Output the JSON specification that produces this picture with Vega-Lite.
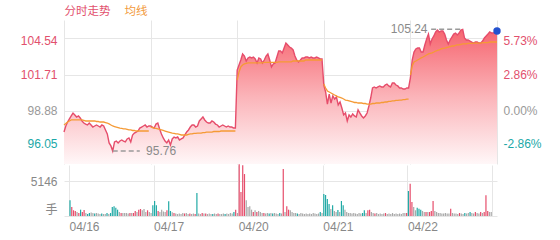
{
"$schema":"https://vega.github.io/schema/vega-lite/v6.json",
"background":"white",
"padding":{"left":20,"top":6,"right":5,"bottom":5},
"spacing":0,
"config":{"font":"Liberation Sans, Noto Sans CJK SC","view":{"stroke":null},"axis":{"labelFont":"Liberation Sans, Noto Sans CJK SC","labelFontSize":12},"legend":{"labelFont":"Noto Sans CJK SC, Liberation Sans"}},
"datasets":{
"m":[
{"t":0,"d":0,"p":97.24,"a":97.79,"v":2310,"c":"down"},
{"t":1,"d":0,"p":97.71,"a":97.90,"v":1320,"c":"up"},
{"t":2,"d":0,"p":98.02,"a":98.02,"v":840,"c":"up"},
{"t":3,"d":0,"p":98.26,"a":98.10,"v":740,"c":"up"},
{"t":4,"d":0,"p":98.49,"a":98.18,"v":590,"c":"flat"},
{"t":5,"d":0,"p":98.72,"a":98.18,"v":440,"c":"up"},
{"t":6,"d":0,"p":98.57,"a":98.18,"v":930,"c":"down"},
{"t":7,"d":0,"p":98.41,"a":98.18,"v":590,"c":"up"},
{"t":8,"d":0,"p":98.49,"a":98.18,"v":880,"c":"up"},
{"t":9,"d":0,"p":98.33,"a":98.18,"v":440,"c":"flat"},
{"t":10,"d":0,"p":98.10,"a":98.18,"v":290,"c":"down"},
{"t":11,"d":0,"p":97.94,"a":98.14,"v":440,"c":"down"},
{"t":12,"d":0,"p":97.86,"a":98.10,"v":510,"c":"flat"},
{"t":13,"d":0,"p":97.79,"a":98.10,"v":440,"c":"flat"},
{"t":14,"d":0,"p":97.94,"a":98.10,"v":370,"c":"down"},
{"t":15,"d":0,"p":97.79,"a":98.10,"v":440,"c":"flat"},
{"t":16,"d":0,"p":97.63,"a":98.10,"v":370,"c":"flat"},
{"t":17,"d":0,"p":97.71,"a":98.10,"v":290,"c":"flat"},
{"t":18,"d":0,"p":97.79,"a":98.06,"v":370,"c":"down"},
{"t":19,"d":0,"p":97.71,"a":98.06,"v":290,"c":"flat"},
{"t":20,"d":0,"p":97.63,"a":98.02,"v":290,"c":"flat"},
{"t":21,"d":0,"p":97.79,"a":98.02,"v":440,"c":"down"},
{"t":22,"d":0,"p":97.71,"a":98.02,"v":290,"c":"flat"},
{"t":23,"d":0,"p":97.40,"a":97.98,"v":440,"c":"down"},
{"t":24,"d":0,"p":97.09,"a":97.94,"v":1320,"c":"down"},
{"t":25,"d":0,"p":96.39,"a":97.87,"v":1430,"c":"down"},
{"t":26,"d":0,"p":96.16,"a":97.79,"v":1220,"c":"down"},
{"t":27,"d":0,"p":95.76,"a":97.71,"v":930,"c":"down"},
{"t":28,"d":0,"p":96.47,"a":97.67,"v":590,"c":"flat"},
{"t":29,"d":0,"p":96.54,"a":97.63,"v":440,"c":"up"},
{"t":30,"d":0,"p":96.39,"a":97.59,"v":440,"c":"flat"},
{"t":31,"d":0,"p":96.54,"a":97.55,"v":440,"c":"flat"},
{"t":32,"d":0,"p":96.62,"a":97.52,"v":440,"c":"flat"},
{"t":33,"d":0,"p":96.54,"a":97.48,"v":370,"c":"flat"},
{"t":34,"d":0,"p":96.47,"a":97.48,"v":440,"c":"up"},
{"t":35,"d":0,"p":96.70,"a":97.44,"v":440,"c":"flat"},
{"t":36,"d":0,"p":96.78,"a":97.40,"v":440,"c":"up"},
{"t":37,"d":0,"p":96.47,"a":97.40,"v":740,"c":"up"},
{"t":38,"d":0,"p":97.01,"a":97.36,"v":590,"c":"flat"},
{"t":39,"d":0,"p":97.16,"a":97.36,"v":930,"c":"up"},
{"t":40,"d":0,"p":97.24,"a":97.32,"v":1030,"c":"up"},
{"t":41,"d":0,"p":97.32,"a":97.32,"v":840,"c":"flat"},
{"t":42,"d":0,"p":97.55,"a":97.32,"v":1030,"c":"flat"},
{"t":43,"d":0,"p":97.63,"a":97.32,"v":590,"c":"flat"},
{"t":44,"d":0,"p":97.71,"a":97.32,"v":840,"c":"up"},
{"t":45,"d":0,"p":97.79,"a":97.32,"v":590,"c":"flat"},
{"t":46,"d":0,"p":97.63,"a":97.32,"v":440,"c":"flat"},
{"t":47,"d":0,"p":97.71,"a":97.32,"v":1570,"c":"down"},
{"t":48,"d":1,"p":97.71,"a":97.63,"v":2210,"c":"down"},
{"t":49,"d":1,"p":97.63,"a":97.59,"v":1570,"c":"down"},
{"t":50,"d":1,"p":97.55,"a":97.55,"v":740,"c":"up"},
{"t":51,"d":1,"p":97.86,"a":97.52,"v":590,"c":"flat"},
{"t":52,"d":1,"p":97.94,"a":97.48,"v":930,"c":"flat"},
{"t":53,"d":1,"p":97.48,"a":97.44,"v":660,"c":"flat"},
{"t":54,"d":1,"p":97.09,"a":97.40,"v":590,"c":"flat"},
{"t":55,"d":1,"p":96.78,"a":97.36,"v":840,"c":"up"},
{"t":56,"d":1,"p":96.54,"a":97.32,"v":2160,"c":"down"},
{"t":57,"d":1,"p":96.39,"a":97.28,"v":740,"c":"down"},
{"t":58,"d":1,"p":96.62,"a":97.24,"v":540,"c":"flat"},
{"t":59,"d":1,"p":96.23,"a":97.20,"v":440,"c":"up"},
{"t":60,"d":1,"p":96.70,"a":97.16,"v":370,"c":"flat"},
{"t":61,"d":1,"p":96.85,"a":97.13,"v":290,"c":"flat"},
{"t":62,"d":1,"p":96.78,"a":97.09,"v":370,"c":"flat"},
{"t":63,"d":1,"p":96.85,"a":97.09,"v":290,"c":"flat"},
{"t":64,"d":1,"p":96.62,"a":97.05,"v":440,"c":"flat"},
{"t":65,"d":1,"p":96.70,"a":97.01,"v":370,"c":"up"},
{"t":66,"d":1,"p":96.78,"a":97.01,"v":440,"c":"flat"},
{"t":67,"d":1,"p":97.01,"a":97.01,"v":290,"c":"flat"},
{"t":68,"d":1,"p":97.24,"a":97.01,"v":370,"c":"up"},
{"t":69,"d":1,"p":97.40,"a":97.05,"v":290,"c":"flat"},
{"t":70,"d":1,"p":97.63,"a":97.09,"v":370,"c":"flat"},
{"t":71,"d":1,"p":97.79,"a":97.09,"v":290,"c":"up"},
{"t":72,"d":1,"p":97.79,"a":97.13,"v":3380,"c":"down"},
{"t":73,"d":1,"p":97.63,"a":97.13,"v":370,"c":"flat"},
{"t":74,"d":1,"p":97.71,"a":97.16,"v":290,"c":"flat"},
{"t":75,"d":1,"p":98.10,"a":97.16,"v":440,"c":"up"},
{"t":76,"d":1,"p":98.26,"a":97.16,"v":370,"c":"flat"},
{"t":77,"d":1,"p":98.41,"a":97.20,"v":370,"c":"up"},
{"t":78,"d":1,"p":98.18,"a":97.20,"v":290,"c":"flat"},
{"t":79,"d":1,"p":98.02,"a":97.24,"v":370,"c":"flat"},
{"t":80,"d":1,"p":97.94,"a":97.24,"v":290,"c":"flat"},
{"t":81,"d":1,"p":97.94,"a":97.24,"v":290,"c":"down"},
{"t":82,"d":1,"p":98.10,"a":97.24,"v":370,"c":"flat"},
{"t":83,"d":1,"p":98.02,"a":97.28,"v":290,"c":"flat"},
{"t":84,"d":1,"p":97.86,"a":97.28,"v":370,"c":"up"},
{"t":85,"d":1,"p":97.79,"a":97.28,"v":290,"c":"flat"},
{"t":86,"d":1,"p":97.63,"a":97.28,"v":290,"c":"flat"},
{"t":87,"d":1,"p":97.71,"a":97.32,"v":370,"c":"flat"},
{"t":88,"d":1,"p":97.79,"a":97.32,"v":290,"c":"down"},
{"t":89,"d":1,"p":97.71,"a":97.32,"v":370,"c":"flat"},
{"t":90,"d":1,"p":97.63,"a":97.32,"v":290,"c":"flat"},
{"t":91,"d":1,"p":97.71,"a":97.32,"v":440,"c":"flat"},
{"t":92,"d":1,"p":97.63,"a":97.32,"v":370,"c":"flat"},
{"t":93,"d":1,"p":97.63,"a":97.32,"v":590,"c":"down"},
{"t":94,"d":1,"p":97.55,"a":97.32,"v":930,"c":"up"},
{"t":95,"d":1,"p":97.55,"a":97.32,"v":440,"c":"flat"},
{"t":96,"d":2,"p":102.07,"a":101.29,"v":7600,"c":"up"},
{"t":97,"d":2,"p":102.46,"a":101.92,"v":3530,"c":"up"},
{"t":98,"d":2,"p":102.85,"a":102.31,"v":7450,"c":"up"},
{"t":99,"d":2,"p":103.32,"a":102.46,"v":6170,"c":"up"},
{"t":100,"d":2,"p":103.16,"a":102.54,"v":2310,"c":"flat"},
{"t":101,"d":2,"p":102.77,"a":102.58,"v":1320,"c":"flat"},
{"t":102,"d":2,"p":103.01,"a":102.62,"v":1430,"c":"flat"},
{"t":103,"d":2,"p":103.08,"a":102.62,"v":930,"c":"flat"},
{"t":104,"d":2,"p":103.01,"a":102.62,"v":590,"c":"up"},
{"t":105,"d":2,"p":103.08,"a":102.62,"v":840,"c":"flat"},
{"t":106,"d":2,"p":102.93,"a":102.62,"v":590,"c":"up"},
{"t":107,"d":2,"p":102.62,"a":102.62,"v":740,"c":"flat"},
{"t":108,"d":2,"p":103.01,"a":102.62,"v":590,"c":"flat"},
{"t":109,"d":2,"p":102.93,"a":102.62,"v":440,"c":"flat"},
{"t":110,"d":2,"p":102.62,"a":102.62,"v":440,"c":"up"},
{"t":111,"d":2,"p":102.85,"a":102.66,"v":370,"c":"flat"},
{"t":112,"d":2,"p":103.16,"a":102.66,"v":440,"c":"flat"},
{"t":113,"d":2,"p":103.32,"a":102.66,"v":370,"c":"down"},
{"t":114,"d":2,"p":102.85,"a":102.66,"v":440,"c":"flat"},
{"t":115,"d":2,"p":102.31,"a":102.66,"v":370,"c":"down"},
{"t":116,"d":2,"p":102.54,"a":102.66,"v":440,"c":"flat"},
{"t":117,"d":2,"p":102.62,"a":102.66,"v":370,"c":"flat"},
{"t":118,"d":2,"p":103.08,"a":102.66,"v":290,"c":"flat"},
{"t":119,"d":2,"p":103.55,"a":102.70,"v":440,"c":"down"},
{"t":120,"d":2,"p":103.55,"a":102.70,"v":370,"c":"flat"},
{"t":121,"d":2,"p":103.40,"a":102.70,"v":6910,"c":"up"},
{"t":122,"d":2,"p":103.78,"a":102.70,"v":590,"c":"flat"},
{"t":123,"d":2,"p":104.17,"a":102.70,"v":1430,"c":"up"},
{"t":124,"d":2,"p":104.02,"a":102.70,"v":930,"c":"up"},
{"t":125,"d":2,"p":103.86,"a":102.70,"v":840,"c":"flat"},
{"t":126,"d":2,"p":103.78,"a":102.70,"v":590,"c":"flat"},
{"t":127,"d":2,"p":103.63,"a":102.77,"v":440,"c":"flat"},
{"t":128,"d":2,"p":103.16,"a":102.77,"v":440,"c":"flat"},
{"t":129,"d":2,"p":102.85,"a":102.77,"v":370,"c":"down"},
{"t":130,"d":2,"p":102.70,"a":102.77,"v":290,"c":"flat"},
{"t":131,"d":2,"p":102.85,"a":102.77,"v":440,"c":"flat"},
{"t":132,"d":2,"p":103.01,"a":102.77,"v":370,"c":"flat"},
{"t":133,"d":2,"p":103.01,"a":102.77,"v":290,"c":"flat"},
{"t":134,"d":2,"p":103.08,"a":102.85,"v":370,"c":"flat"},
{"t":135,"d":2,"p":103.08,"a":102.85,"v":290,"c":"flat"},
{"t":136,"d":2,"p":103.01,"a":102.85,"v":370,"c":"flat"},
{"t":137,"d":2,"p":103.08,"a":102.85,"v":290,"c":"flat"},
{"t":138,"d":2,"p":103.01,"a":102.85,"v":440,"c":"flat"},
{"t":139,"d":2,"p":103.01,"a":102.85,"v":370,"c":"flat"},
{"t":140,"d":2,"p":103.08,"a":102.85,"v":290,"c":"flat"},
{"t":141,"d":2,"p":103.01,"a":102.85,"v":370,"c":"flat"},
{"t":142,"d":2,"p":102.93,"a":102.85,"v":590,"c":"down"},
{"t":143,"d":2,"p":102.93,"a":102.85,"v":440,"c":"flat"},
{"t":144,"d":3,"p":100.90,"a":100.98,"v":3230,"c":"down"},
{"t":145,"d":3,"p":100.36,"a":100.67,"v":3090,"c":"down"},
{"t":146,"d":3,"p":99.42,"a":100.44,"v":2500,"c":"down"},
{"t":147,"d":3,"p":100.20,"a":100.36,"v":1760,"c":"down"},
{"t":148,"d":3,"p":99.50,"a":100.28,"v":1030,"c":"flat"},
{"t":149,"d":3,"p":100.05,"a":100.20,"v":1570,"c":"down"},
{"t":150,"d":3,"p":99.81,"a":100.12,"v":740,"c":"flat"},
{"t":151,"d":3,"p":99.97,"a":100.05,"v":590,"c":"flat"},
{"t":152,"d":3,"p":99.35,"a":99.97,"v":880,"c":"down"},
{"t":153,"d":3,"p":99.58,"a":99.93,"v":590,"c":"flat"},
{"t":154,"d":3,"p":99.11,"a":99.89,"v":2210,"c":"down"},
{"t":155,"d":3,"p":98.57,"a":99.81,"v":1570,"c":"down"},
{"t":156,"d":3,"p":98.72,"a":99.73,"v":930,"c":"flat"},
{"t":157,"d":3,"p":98.10,"a":99.70,"v":590,"c":"flat"},
{"t":158,"d":3,"p":98.57,"a":99.66,"v":440,"c":"flat"},
{"t":159,"d":3,"p":98.41,"a":99.62,"v":440,"c":"flat"},
{"t":160,"d":3,"p":98.65,"a":99.58,"v":370,"c":"flat"},
{"t":161,"d":3,"p":98.49,"a":99.54,"v":440,"c":"flat"},
{"t":162,"d":3,"p":98.41,"a":99.54,"v":370,"c":"flat"},
{"t":163,"d":3,"p":98.96,"a":99.50,"v":290,"c":"flat"},
{"t":164,"d":3,"p":98.72,"a":99.50,"v":440,"c":"flat"},
{"t":165,"d":3,"p":98.49,"a":99.50,"v":370,"c":"flat"},
{"t":166,"d":3,"p":98.33,"a":99.46,"v":440,"c":"down"},
{"t":167,"d":3,"p":98.49,"a":99.46,"v":840,"c":"down"},
{"t":168,"d":3,"p":98.72,"a":99.42,"v":440,"c":"flat"},
{"t":169,"d":3,"p":99.27,"a":99.42,"v":840,"c":"up"},
{"t":170,"d":3,"p":99.89,"a":99.42,"v":930,"c":"up"},
{"t":171,"d":3,"p":100.67,"a":99.46,"v":590,"c":"flat"},
{"t":172,"d":3,"p":100.75,"a":99.46,"v":440,"c":"flat"},
{"t":173,"d":3,"p":100.67,"a":99.50,"v":370,"c":"up"},
{"t":174,"d":3,"p":100.75,"a":99.50,"v":440,"c":"flat"},
{"t":175,"d":3,"p":100.83,"a":99.50,"v":290,"c":"flat"},
{"t":176,"d":3,"p":100.75,"a":99.54,"v":370,"c":"flat"},
{"t":177,"d":3,"p":100.75,"a":99.54,"v":290,"c":"flat"},
{"t":178,"d":3,"p":100.90,"a":99.58,"v":370,"c":"flat"},
{"t":179,"d":3,"p":100.98,"a":99.58,"v":440,"c":"up"},
{"t":180,"d":3,"p":100.83,"a":99.62,"v":290,"c":"flat"},
{"t":181,"d":3,"p":100.75,"a":99.62,"v":370,"c":"flat"},
{"t":182,"d":3,"p":101.06,"a":99.66,"v":290,"c":"flat"},
{"t":183,"d":3,"p":101.06,"a":99.66,"v":440,"c":"flat"},
{"t":184,"d":3,"p":100.90,"a":99.70,"v":290,"c":"flat"},
{"t":185,"d":3,"p":100.83,"a":99.70,"v":370,"c":"flat"},
{"t":186,"d":3,"p":100.67,"a":99.73,"v":290,"c":"flat"},
{"t":187,"d":3,"p":100.67,"a":99.73,"v":370,"c":"flat"},
{"t":188,"d":3,"p":100.59,"a":99.77,"v":290,"c":"flat"},
{"t":189,"d":3,"p":100.59,"a":99.77,"v":440,"c":"flat"},
{"t":190,"d":3,"p":100.67,"a":99.81,"v":440,"c":"flat"},
{"t":191,"d":3,"p":100.67,"a":99.81,"v":440,"c":"up"},
{"t":192,"d":4,"p":101.45,"a":101.68,"v":3680,"c":"down"},
{"t":193,"d":4,"p":102.85,"a":102.38,"v":4750,"c":"up"},
{"t":194,"d":4,"p":103.47,"a":102.70,"v":2060,"c":"up"},
{"t":195,"d":4,"p":103.71,"a":102.77,"v":1320,"c":"flat"},
{"t":196,"d":4,"p":103.78,"a":102.85,"v":840,"c":"flat"},
{"t":197,"d":4,"p":103.78,"a":102.93,"v":1220,"c":"down"},
{"t":198,"d":4,"p":103.47,"a":103.01,"v":1070,"c":"down"},
{"t":199,"d":4,"p":103.47,"a":103.08,"v":930,"c":"down"},
{"t":200,"d":4,"p":104.02,"a":103.16,"v":740,"c":"flat"},
{"t":201,"d":4,"p":104.49,"a":103.24,"v":590,"c":"flat"},
{"t":202,"d":4,"p":104.87,"a":103.32,"v":590,"c":"up"},
{"t":203,"d":4,"p":104.10,"a":103.36,"v":590,"c":"flat"},
{"t":204,"d":4,"p":104.49,"a":103.40,"v":590,"c":"up"},
{"t":205,"d":4,"p":104.72,"a":103.47,"v":740,"c":"up"},
{"t":206,"d":4,"p":105.03,"a":103.55,"v":2210,"c":"up"},
{"t":207,"d":4,"p":105.19,"a":103.59,"v":740,"c":"flat"},
{"t":208,"d":4,"p":105.03,"a":103.63,"v":590,"c":"flat"},
{"t":209,"d":4,"p":105.11,"a":103.71,"v":440,"c":"flat"},
{"t":210,"d":4,"p":105.11,"a":103.75,"v":440,"c":"flat"},
{"t":211,"d":4,"p":104.87,"a":103.78,"v":370,"c":"flat"},
{"t":212,"d":4,"p":104.41,"a":103.82,"v":370,"c":"flat"},
{"t":213,"d":4,"p":104.10,"a":103.86,"v":440,"c":"flat"},
{"t":214,"d":4,"p":104.41,"a":103.90,"v":370,"c":"flat"},
{"t":215,"d":4,"p":104.64,"a":103.94,"v":370,"c":"flat"},
{"t":216,"d":4,"p":104.87,"a":103.94,"v":1070,"c":"up"},
{"t":217,"d":4,"p":104.95,"a":103.98,"v":440,"c":"flat"},
{"t":218,"d":4,"p":104.80,"a":104.02,"v":370,"c":"flat"},
{"t":219,"d":4,"p":104.95,"a":104.02,"v":370,"c":"flat"},
{"t":220,"d":4,"p":105.19,"a":104.06,"v":290,"c":"flat"},
{"t":221,"d":4,"p":105.24,"a":104.10,"v":440,"c":"up"},
{"t":222,"d":4,"p":104.56,"a":104.10,"v":370,"c":"flat"},
{"t":223,"d":4,"p":104.41,"a":104.10,"v":290,"c":"flat"},
{"t":224,"d":4,"p":104.41,"a":104.14,"v":440,"c":"down"},
{"t":225,"d":4,"p":104.33,"a":104.14,"v":370,"c":"flat"},
{"t":226,"d":4,"p":104.25,"a":104.14,"v":440,"c":"flat"},
{"t":227,"d":4,"p":104.17,"a":104.17,"v":590,"c":"down"},
{"t":228,"d":4,"p":104.25,"a":104.17,"v":440,"c":"flat"},
{"t":229,"d":4,"p":104.25,"a":104.17,"v":370,"c":"flat"},
{"t":230,"d":4,"p":104.17,"a":104.17,"v":590,"c":"up"},
{"t":231,"d":4,"p":104.17,"a":104.17,"v":440,"c":"flat"},
{"t":232,"d":4,"p":104.33,"a":104.21,"v":370,"c":"flat"},
{"t":233,"d":4,"p":104.56,"a":104.21,"v":590,"c":"up"},
{"t":234,"d":4,"p":104.72,"a":104.21,"v":440,"c":"flat"},
{"t":235,"d":4,"p":104.87,"a":104.21,"v":590,"c":"up"},
{"t":236,"d":4,"p":105.03,"a":104.25,"v":3040,"c":"up"},
{"t":237,"d":4,"p":104.95,"a":104.25,"v":740,"c":"up"},
{"t":238,"d":4,"p":104.95,"a":104.25,"v":590,"c":"flat"},
{"t":239,"d":4,"p":105.03,"a":104.25,"v":590,"c":"flat"},
{"t":240,"d":4,"p":105.11,"a":104.25,"last":true}
],
"ann":[
{"k":"max","t1":203.5,"t2":221,"tl":201.5,"p":105.24,"label":"105.24"},
{"k":"min","t1":27,"t2":42,"tl":45.5,"p":95.76,"label":"95.76"}
]
},
"resolve":{"scale":{"color":"independent"},"legend":{"color":"independent"}},
"vconcat":[
{
"width":433,"height":144,
"layer":[
{"data":{"name":"m"},
"mark":{"type":"area","clip":true,"color":{"gradient":"linear","x1":0,"y1":0,"x2":0,"y2":1,"stops":[{"offset":0,"color":"#f6656f"},{"offset":0.5,"color":"#fbb4b9"},{"offset":1,"color":"#fff7f8"}]}},
"encoding":{
"x":{"field":"t","type":"quantitative","scale":{"domain":[0,240],"nice":false,"zero":false},"axis":{"values":[0,48,96,144,192,240],"labels":false,"ticks":false,"domain":false,"grid":true,"gridColor":"#e6e6e6","title":null}},
"y":{"field":"p","type":"quantitative","scale":{"domain":[94.75,105.965],"nice":false,"zero":false},"axis":{"orient":"left","values":[96.05,98.88,101.71,104.54],"format":".2f","title":null,"domain":false,"ticks":false,"labelPadding":7,"labelFlush":20,"labelFlushOffset":3,"gridColor":"#e6e6e6","labelColor":{"condition":[{"test":"datum.value > 100","value":"#e2506d"},{"test":"datum.value < 97","value":"#1ba8a8"}],"value":"#999999"}}},
"y2":{"datum":94.75}
}},
{"data":{"name":"m"},
"mark":{"type":"line","strokeWidth":1.4},
"encoding":{
"x":{"field":"t","type":"quantitative"},
"y":{"field":"p","type":"quantitative","scale":{"domain":[94.75,105.965],"nice":false,"zero":false},"axis":null},
"color":{"datum":"分时走势","type":"nominal","scale":{"domain":["分时走势","均线"],"range":["#e64d6b","#f59a35"]},
"legend":{"orient":"none","legendX":-11,"legendY":-14,"direction":"horizontal","title":null,"symbolSize":0,"symbolStrokeWidth":0,"symbolOpacity":0,"labelOffset":0,"columnPadding":2,"labelFontSize":11.5,"padding":0,"encode":{"labels":{"update":{"fill":{"signal":"datum.label == '均线' ? '#f29a3c' : '#e2506d'"}}}}}}
}},
{"data":{"name":"m"},
"mark":{"type":"line","strokeWidth":1.3},
"encoding":{
"x":{"field":"t","type":"quantitative"},
"y":{"field":"a","type":"quantitative","scale":{"domain":[94.75,105.965],"nice":false,"zero":false},"axis":{"orient":"right","values":[96.05,98.88,101.71,104.54],"labelExpr":"datum.value > 104 ? '5.73%' : (datum.value > 101 ? '2.86%' : (datum.value > 98 ? '0.00%' : '-2.86%'))","title":null,"domain":false,"ticks":false,"grid":false,"labelPadding":6,"labelFlush":20,"labelFlushOffset":3,"labelColor":{"condition":[{"test":"datum.value > 100","value":"#e2506d"},{"test":"datum.value < 97","value":"#1ba8a8"}],"value":"#999999"}}},
"detail":{"field":"d","type":"nominal"},
"color":{"datum":"均线","type":"nominal"}
}},
{"data":{"name":"ann"},
"mark":{"type":"rule","color":"#9a9a9a","strokeWidth":1.5,"strokeDash":[5,3]},
"encoding":{
"x":{"field":"t1","type":"quantitative"},
"x2":{"field":"t2"},
"y":{"field":"p","type":"quantitative","scale":{"domain":[94.75,105.965],"nice":false,"zero":false},"axis":null}
}},
{"data":{"name":"ann"},
"transform":[{"filter":"datum.k == 'max'"}],
"mark":{"type":"text","align":"right","baseline":"middle","fontSize":12,"color":"#8a8a8a"},
"encoding":{
"x":{"field":"tl","type":"quantitative"},
"y":{"field":"p","type":"quantitative","scale":{"domain":[94.75,105.965],"nice":false,"zero":false},"axis":null},
"text":{"field":"label"}
}},
{"data":{"name":"ann"},
"transform":[{"filter":"datum.k == 'min'"}],
"mark":{"type":"text","align":"left","baseline":"middle","fontSize":12,"color":"#8a8a8a"},
"encoding":{
"x":{"field":"tl","type":"quantitative"},
"y":{"field":"p","type":"quantitative","scale":{"domain":[94.75,105.965],"nice":false,"zero":false},"axis":null},
"text":{"field":"label"}
}},
{"data":{"name":"m"},
"transform":[{"filter":"datum.last == true"}],
"mark":{"type":"circle","size":55,"color":"#2452cf","opacity":1},
"encoding":{
"x":{"field":"t","type":"quantitative"},
"y":{"field":"p","type":"quantitative","scale":{"domain":[94.75,105.965],"nice":false,"zero":false},"axis":null}
}}
],
"resolve":{"scale":{"y":"independent"}}
},
{
"width":433,"height":51,
"data":{"name":"m"},
"transform":[{"filter":"isValid(datum.v)"}],
"mark":{"type":"bar","width":1.2,"xOffset":1},
"encoding":{
"x":{"field":"t","type":"quantitative","scale":{"domain":[0,240],"nice":false,"zero":false},"axis":{"values":[0,48,96,144,192,240],"labelExpr":"datum.value >= 240 ? '' : ['04/16','04/17','04/20','04/21','04/22'][round(datum.value/48)]","labelAlign":"left","labelPadding":5,"labelColor":"#888888","ticks":false,"domain":false,"grid":true,"gridColor":"#e6e6e6","title":null}},
"y":{"field":"v","type":"quantitative","scale":{"domain":[0,7500],"nice":false},"axis":{"values":[0,5146],"labelExpr":"datum.value == 0 ? '手' : '5146'","title":null,"domain":false,"ticks":false,"labelPadding":7,"labelFlush":10,"labelColor":"#888888","gridColor":"#e6e6e6"}},
"color":{"field":"c","type":"nominal","scale":{"domain":["up","down","flat"],"range":["#e64d6b","#22aaa6","#a9a9a9"]},"legend":null}
}
}
]
}
